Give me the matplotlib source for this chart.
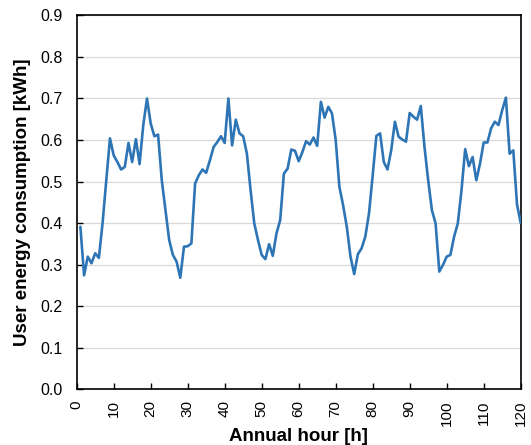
import matplotlib
matplotlib.use("Agg")
import matplotlib.pyplot as plt

plt.rcParams['font.family'] = ['Liberation Sans', 'DejaVu Sans']

hours = list(range(1, 121))
consumption = [
    0.391, 0.274, 0.319, 0.303, 0.327, 0.316, 0.400, 0.503, 0.604, 0.563,
    0.547, 0.529, 0.535, 0.593, 0.547, 0.602, 0.542, 0.636, 0.700, 0.640,
    0.609, 0.613, 0.503, 0.431, 0.359, 0.323, 0.307, 0.268, 0.343, 0.344,
    0.351, 0.495, 0.515, 0.529, 0.521, 0.551, 0.583, 0.595, 0.609, 0.593,
    0.700, 0.587, 0.649, 0.616, 0.609, 0.567, 0.479, 0.399, 0.359, 0.323,
    0.313, 0.349, 0.321, 0.375, 0.407, 0.519, 0.531, 0.577, 0.574, 0.549,
    0.571, 0.597, 0.589, 0.606, 0.586, 0.692, 0.654, 0.680, 0.664, 0.600,
    0.487, 0.443, 0.391, 0.319, 0.277, 0.325, 0.339, 0.367, 0.423, 0.515,
    0.610, 0.616, 0.547, 0.529, 0.575, 0.644, 0.608, 0.601, 0.596, 0.665,
    0.656, 0.649, 0.682, 0.583, 0.503, 0.431, 0.399, 0.283, 0.299, 0.319,
    0.323, 0.367, 0.399, 0.479, 0.578, 0.537, 0.559, 0.503, 0.543, 0.594,
    0.594, 0.628, 0.644, 0.636, 0.672, 0.702, 0.567, 0.575, 0.445, 0.400,
]
x_ticks = list(range(0, 121, 10))
y_ticks = [0.0, 0.1, 0.2, 0.3, 0.4, 0.5, 0.6, 0.7, 0.8, 0.9]
x_label = "Annual hour [h]"
y_label = "User energy consumption [kWh]"

fig = plt.figure(figsize=(5.31, 4.45), dpi=100)
ax = fig.add_axes([0.1444, 0.1258, 0.8362, 0.8394])

ax.plot(hours, consumption, color='#2E75B6', linewidth=1.9,
        solid_joinstyle='round', solid_capstyle='round', zorder=3)

ax.set_xlim(0, 120)
ax.set_ylim(0, 0.9)
ax.set_xticks(x_ticks)
ax.set_yticks(y_ticks)
ax.set_xticklabels([str(t) for t in x_ticks], rotation=90, fontsize=11)
ax.set_yticklabels([f"{t:.1f}" for t in y_ticks], fontsize=11.5)
ax.tick_params(direction='in', length=4, width=1.0, color='black')
ax.tick_params(axis='y', pad=10)
ax.tick_params(axis='x', pad=8)

ax.grid(axis='y', color='#D9D9D9', linewidth=0.9, zorder=0)
ax.set_axisbelow(True)
for s in ax.spines.values():
    s.set_color('black')
    s.set_linewidth(1.2)

ax.set_xlabel(x_label, fontsize=13.5, fontweight='bold', va='center')
ax.xaxis.set_label_coords(0.5, -0.128)
ax.set_ylabel(y_label, fontsize=13.5, fontweight='bold', va='center')
ax.yaxis.set_label_coords(-0.121, 0.5)

fig.savefig("out.png", dpi=100, facecolor='white')
